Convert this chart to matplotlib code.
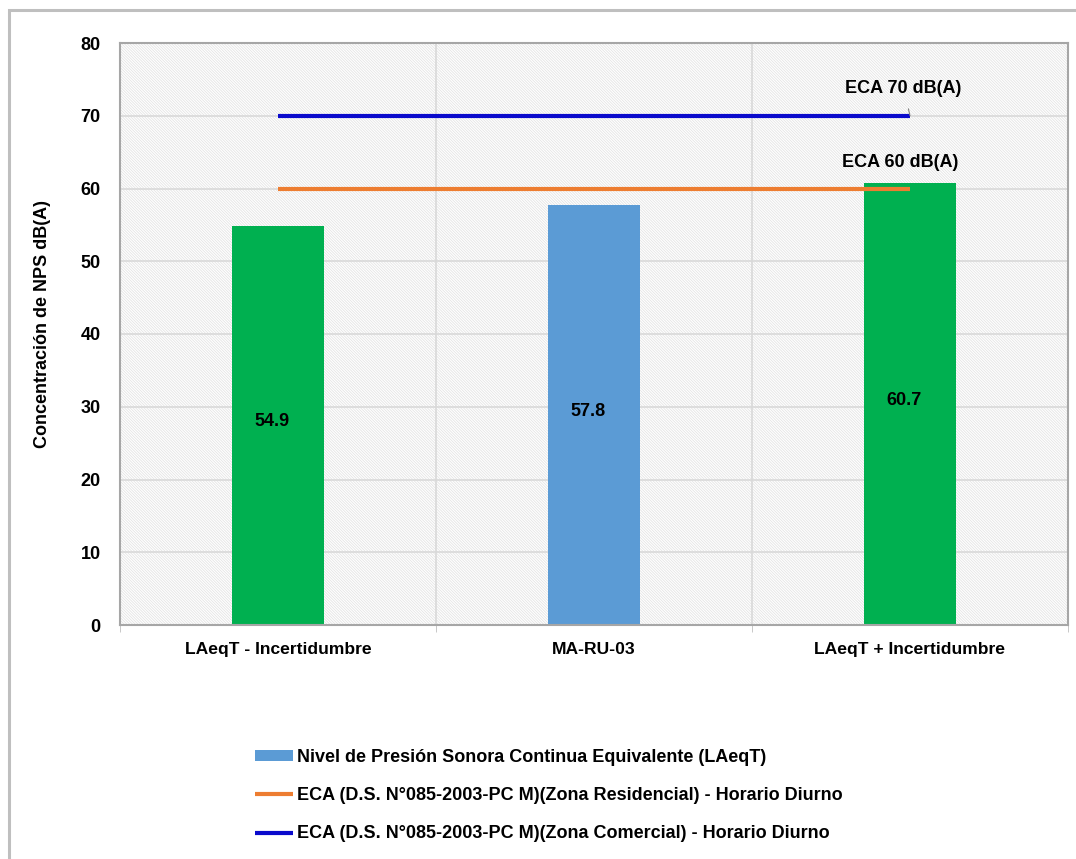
import matplotlib
matplotlib.use("Agg")
import matplotlib.pyplot as plt
from matplotlib.patches import Rectangle

plt.rcParams['font.family'] = ['Liberation Sans', 'DejaVu Sans']
plt.rcParams['font.weight'] = 'bold'
plt.rcParams['hatch.color'] = '#e4e4e4'
plt.rcParams['hatch.linewidth'] = 0.6

# Data
categories = ['LAeqT - Incertidumbre', 'MA-RU-03', 'LAeqT + Incertidumbre']
values = [54.9, 57.8, 60.7]
bar_colors = ['#00B050', '#5B9BD5', '#00B050']
eca_residencial = [60, 60, 60]
eca_comercial = [70, 70, 70]
y_ticks = [0, 10, 20, 30, 40, 50, 60, 70, 80]

legend_labels = [
    'Nivel de Presión Sonora Continua Equivalente (LAeqT)',
    'ECA (D.S. N°085-2003-PC M)(Zona Residencial) - Horario Diurno',
    'ECA (D.S. N°085-2003-PC M)(Zona Comercial) - Horario Diurno',
]

fs = 13

fig = plt.figure(figsize=(10.76, 8.59), dpi=100)
# outer chart frame
fig.patches.append(Rectangle((9 / 1076, -0.05), 1.2, 1 - 10 / 859 + 0.05,
                             transform=fig.transFigure, fill=False,
                             edgecolor='#bfbfbf', linewidth=2.2))

ax = fig.add_axes([120 / 1076, 1 - 625 / 859, 948 / 1076, 582 / 859])

# hatched plot background
ax.add_patch(Rectangle((0, 0), 1, 1, transform=ax.transAxes, facecolor='white',
                       edgecolor='#e4e4e4', linewidth=0, hatch='\\' * 12, zorder=0))

x = list(range(len(categories)))
bars = ax.bar(x, values, width=0.29, color=bar_colors, zorder=3)

ax.plot(x, eca_residencial, color='#ED7D31', linewidth=3, solid_capstyle='butt', zorder=4)
ax.plot(x, eca_comercial, color='#0A0ACC', linewidth=3, solid_capstyle='butt', zorder=4)

for xi, v in zip(x, values):
    ax.text(xi - 0.02, v / 2 + 0.5, f'{v:.1f}', ha='center', va='center', fontsize=fs,
            fontweight='bold', color='black', zorder=5)

ax.annotate('ECA 70 dB(A)', xy=(x[-1], eca_comercial[-1]), xytext=(1.98, 73.8),
            ha='center', va='center', fontsize=fs, fontweight='bold',
            arrowprops=dict(arrowstyle='-', color='#808080', lw=0.8,
                            shrinkA=7, shrinkB=0), zorder=5)
ax.text(1.97, 63.6, 'ECA 60 dB(A)', ha='center', va='center', fontsize=fs,
        fontweight='bold', zorder=5)

ax.set_xlim(-0.5, 2.5)
ax.set_ylim(0, 80)
ax.set_yticks(y_ticks)
ax.set_xticks(x)
ax.set_xticklabels(categories)
ax.set_xticks([-0.5, 0.5, 1.5, 2.5], minor=True)
ax.tick_params(axis='x', which='major', length=0, pad=12, labelsize=12.6)
ax.tick_params(axis='x', which='minor', length=5, color='#bfbfbf', direction='out')
ax.tick_params(axis='y', length=0, pad=14, labelsize=fs)
for lbl in ax.get_xticklabels() + ax.get_yticklabels():
    lbl.set_fontweight('bold')

ax.set_ylabel('Concentración de NPS dB(A)', fontsize=fs, fontweight='bold')
ax.yaxis.set_label_coords(-0.0725, 0.517)

ax.grid(axis='y', color='#d9d9d9', linewidth=1.2, zorder=1)
ax.grid(axis='x', which='minor', color='#d9d9d9', linewidth=1.2, zorder=1)
ax.set_axisbelow(True)

for s in ax.spines.values():
    s.set_color('#a6a6a6')
    s.set_linewidth(1.5)
    s.set_zorder(6)

handles = [bars[1], ax.lines[0], ax.lines[1]]
fig.legend(handles, legend_labels, loc='upper left',
           bbox_to_anchor=(248 / 1076, 1 - 742 / 859), frameon=False,
           fontsize=fs, handlelength=2.1, handleheight=0.55, handletextpad=0.2,
           labelspacing=1.17, borderaxespad=0)

fig.savefig('out.png', dpi=100)
